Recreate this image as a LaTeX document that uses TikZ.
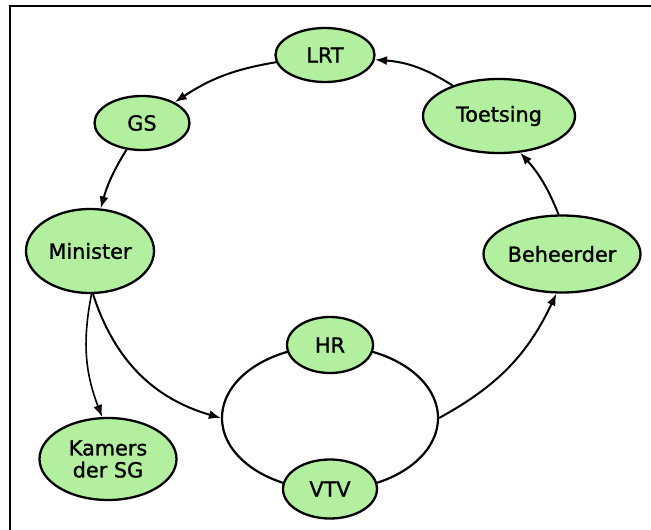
\documentclass[tikz,border=0pt]{standalone}
\usepackage{fontspec}
\setmainfont{DejaVu Sans}
\newfontfamily\nodefont[RawFeature={embolden=1.3}]{DejaVu Sans}
\usetikzlibrary{shapes.geometric,arrows.meta}
\definecolor{nodegreen}{RGB}{178,240,160}
\definecolor{tipred}{RGB}{90,0,0}
\begin{document}
\begin{tikzpicture}[x=1pt,y=-1pt,
  bub/.style={ellipse,draw=black,line width=2.3pt,fill=nodegreen,inner sep=0pt,
    font=\nodefont\fontsize{20.8}{22}\selectfont,align=center},
  conn/.style={line width=2pt,draw=black,
    -{Latex[length=12pt,width=9pt,fill=tipred]}},
  ring/.style={ellipse,draw=black,line width=2.2pt,fill=white,inner sep=0pt}
]
\useasboundingbox (0,0) rectangle (651,530);
\draw[line width=2.5pt] (651,6) -- (10,6) -- (10,530);

\node[ring,minimum width=216pt,minimum height=144pt] (big) at (330,418) {};

\node[bub,minimum width=99pt,minimum height=54pt] (lrt) at (325,55) {LRT};
\node[bub,minimum width=95pt,minimum height=54pt] (gs) at (142,123) {GS};
\node[bub,minimum width=152pt,minimum height=74pt] (toe) at (499,116) {Toetsing};
\node[bub,minimum width=128pt,minimum height=84pt] (min) at (90,251) {Minister};
\node[bub,minimum width=157pt,minimum height=77pt] (beh) at (562,254) {Beheerder};
\node[bub,minimum width=86pt,minimum height=56pt] (hr) at (330,345) {HR};
\node[bub,minimum width=94pt,minimum height=59pt] (vtv) at (330,489) {VTV};
\node[bub,minimum width=137pt,minimum height=82pt] (kam) at (108,459) {Kamers\\der SG};

\draw[conn] (toe) to[bend right=14] (lrt);
\draw[conn] (lrt) to[bend right=12] (gs);
\draw[conn] (gs) to[bend right=8] (min);
\draw[conn,line width=1.6pt] (min.-88) to[bend right=16] (kam.98);
\draw[conn] (min.-86) to[bend right=28] (big.west);
\draw[conn] (big.east) to[bend right=18] (beh.-98);
\draw[conn] (beh.95) to[bend right=10] (toe.-60);
\end{tikzpicture}
\end{document}
